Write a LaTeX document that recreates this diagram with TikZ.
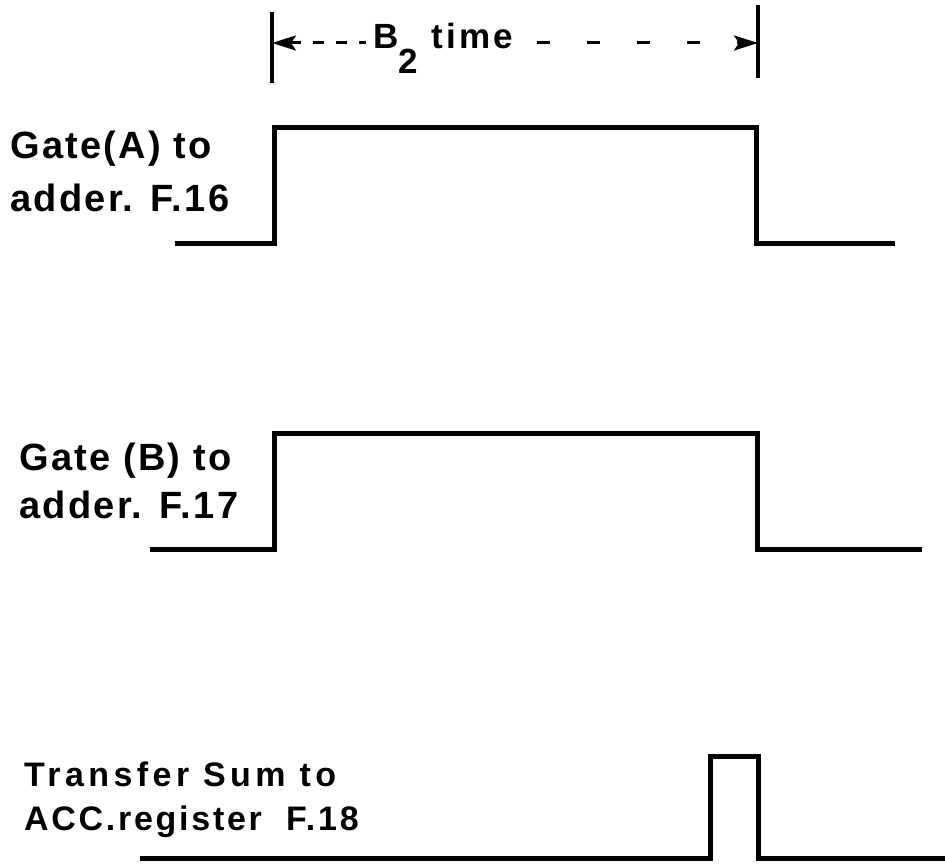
\documentclass[tikz,border=0pt]{standalone}
\usepackage{fontspec}
\setmainfont{Liberation Sans}
\newfontfamily\lblfont[LetterSpace=6]{Liberation Sans}
\newfontfamily\dimfont[LetterSpace=9]{Liberation Sans}
\newfontfamily\trfont[LetterSpace=13]{Liberation Sans}
\newfontfamily\accfont[LetterSpace=8]{Liberation Sans}
\usetikzlibrary{arrows.meta}
\begin{document}
\begin{tikzpicture}[x=1pt,y=-1pt,
  lbl/.style={inner sep=0pt, anchor=base west, font=\lblfont\bfseries\fontsize{38}{44}\selectfont},
  lbltr/.style={inner sep=0pt, anchor=base west, font=\trfont\bfseries\fontsize{34}{40}\selectfont},
  lblacc/.style={inner sep=0pt, anchor=base west, font=\accfont\bfseries\fontsize{34}{40}\selectfont},
  dimlbl/.style={inner sep=0pt, anchor=base west, font=\dimfont\bfseries\fontsize{35}{40}\selectfont},
  wave/.style={line width=5pt, line join=miter, line cap=butt},
  ticks/.style={line width=3.2pt},
  dimline/.style={line width=3pt},
  tip/.tip={Stealth[length=24pt,width=15pt,inset=5pt]}
]
\useasboundingbox (0,0) rectangle (945,866);

% labels
\node[lbl] (ga1) at (10,159) {Gate(A) to};
\node[lbl] (ga2) at (10,212) {adder. F.16};
\node[lbl] (gb1) at (19,470) {Gate (B) to};
\node[lbl] (gb2) at (19,518) {adder. F.17};
\node[lbltr] (tr1) at (24,786) {Transfer Sum to};
\node[lblacc] (tr2) at (24,830) {ACC.register\ \ F.18};

% dimension B2 time
\coordinate (tL1) at (272,12);
\coordinate (tL2) at (272,83);
\coordinate (tR1) at (758,5);
\coordinate (tR2) at (758,78);
\coordinate (aL) at (272,43);
\coordinate (aR) at (758,43);
\coordinate (dL) at (366,43);
\coordinate (dR) at (537,43);
\draw[ticks] (tL1) -- (tL2);
\draw[ticks] (tR1) -- (tR2);
\node[dimlbl] (bt) at (373,49) {B\raisebox{-25pt}{2}\kern14pt time};
\draw[dimline, dash pattern=on 11pt off 12pt, {tip}-] (aL) -- (dL);
\draw[dimline, dash pattern=on 13pt off 37pt, -{tip}] (dR) -- (aR);

% waveform 1
\coordinate (w1a) at (175,244);
\coordinate (w1b) at (274,244);
\coordinate (w1c) at (274,128);
\coordinate (w1d) at (756,128);
\coordinate (w1e) at (756,244);
\coordinate (w1f) at (895,244);
\draw[wave] (w1a) -- (w1b) -- (w1c) -- (w1d) -- (w1e) -- (w1f);

% waveform 2
\coordinate (w2a) at (150,549);
\coordinate (w2b) at (274,549);
\coordinate (w2c) at (274,433);
\coordinate (w2d) at (757,433);
\coordinate (w2e) at (757,549);
\coordinate (w2f) at (922,549);
\draw[wave] (w2a) -- (w2b) -- (w2c) -- (w2d) -- (w2e) -- (w2f);

% waveform 3
\coordinate (w3a) at (140,858);
\coordinate (w3b) at (710,858);
\coordinate (w3c) at (710,756);
\coordinate (w3d) at (758,756);
\coordinate (w3e) at (758,858);
\coordinate (w3f) at (945,858);
\draw[wave] (w3a) -- (w3b) -- (w3c) -- (w3d) -- (w3e) -- (w3f);
\end{tikzpicture}
\end{document}
